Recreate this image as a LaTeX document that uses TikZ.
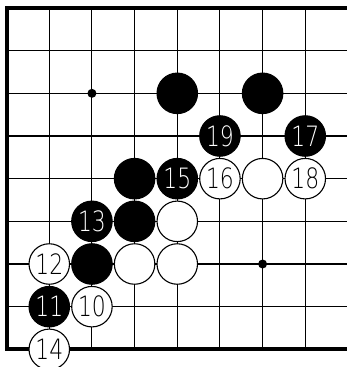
\documentclass[tikz,border=0pt]{standalone}
\usepackage{fontspec}
\newfontfamily\stonefont{DejaVu Sans ExtraLight}
\begin{document}
\begin{tikzpicture}[x=1pt,y=-1pt,
  gridline/.style={line width=1.1pt},
  border/.style={line width=4pt,line join=miter},
  stonebase/.style={circle,line width=1.1pt,draw=black,minimum size=40.5pt,inner sep=0pt,
    font=\stonefont\fontsize{28}{28}\selectfont},
  bstone/.style={stonebase,fill=black,text=white},
  wstone/.style={stonebase,fill=white,text=black},
  hoshi/.style={circle,fill=black,minimum size=9pt,inner sep=0pt}]
\useasboundingbox (0,0) rectangle (347,367);
\clip (0,0) rectangle (347,367);
\newcommand{\gx}[1]{6.6+#1*42.667}
\newcommand{\gy}[1]{8+#1*42.667}
% grid
\foreach \i in {1,...,8} \draw[gridline] ({\gx{\i}},{\gy{0}}) -- ({\gx{\i}},{\gy{8}});
\foreach \j in {1,...,7} \draw[gridline] ({\gx{0}},{\gy{\j}}) -- (360,{\gy{\j}});
\draw[border] (360,{\gy{0}}) -- ({\gx{0}},{\gy{0}}) -- ({\gx{0}},{\gy{8}}) -- (360,{\gy{8}});
% star points
\node[hoshi] (h1) at ({\gx{2}},{\gy{2}}) {};
\node[hoshi] (h2) at ({\gx{6}},{\gy{6}}) {};
% stones
\newcommand{\lbl}[1]{\scalebox{0.78}[1]{#1}}
\node[bstone] (b1) at ({\gx{4}},{\gy{2}}) {};
\node[bstone] (b2) at ({\gx{6}},{\gy{2}}) {};
\node[bstone] (s19) at ({\gx{5}},{\gy{3}}) {\lbl{19}};
\node[bstone] (s17) at ({\gx{7}},{\gy{3}}) {\lbl{17}};
\node[bstone] (b3) at ({\gx{3}},{\gy{4}}) {};
\node[bstone] (s15) at ({\gx{4}},{\gy{4}}) {\lbl{15}};
\node[wstone] (s16) at ({\gx{5}},{\gy{4}}) {\lbl{16}};
\node[wstone] (w1) at ({\gx{6}},{\gy{4}}) {};
\node[wstone] (s18) at ({\gx{7}},{\gy{4}}) {\lbl{18}};
\node[bstone] (s13) at ({\gx{2}},{\gy{5}}) {\lbl{13}};
\node[bstone] (b4) at ({\gx{3}},{\gy{5}}) {};
\node[wstone] (w2) at ({\gx{4}},{\gy{5}}) {};
\node[wstone] (s12) at ({\gx{1}},{\gy{6}}) {\lbl{12}};
\node[bstone] (b5) at ({\gx{2}},{\gy{6}}) {};
\node[wstone] (w3) at ({\gx{3}},{\gy{6}}) {};
\node[wstone] (w4) at ({\gx{4}},{\gy{6}}) {};
\node[bstone] (s11) at ({\gx{1}},{\gy{7}}) {\lbl{11}};
\node[wstone] (s10) at ({\gx{2}},{\gy{7}}) {\lbl{10}};
\node[wstone] (s14) at ({\gx{1}},{\gy{8}}) {\lbl{14}};
\end{tikzpicture}
\end{document}
